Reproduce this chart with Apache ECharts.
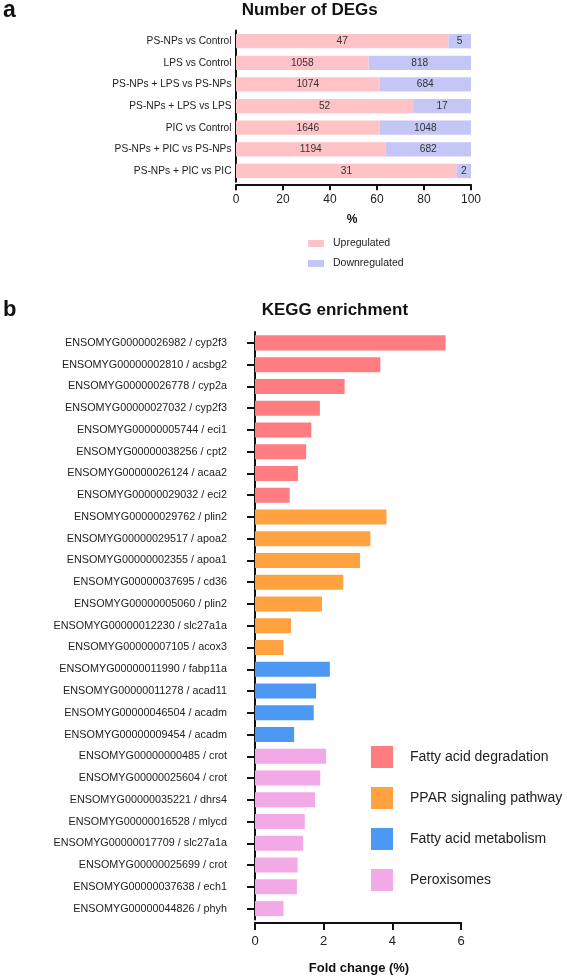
<!DOCTYPE html>
<html>
<head>
<meta charset="utf-8">
<script src="https://cdn.jsdelivr.net/npm/echarts@6/dist/echarts.min.js"></script>
<style>
html,body{margin:0;padding:0;background:#fff;}
#c{width:567px;height:977px;}
</style>
</head>
<body>
<div id="c"></div>
<script>
// ---- Panel a data ----
const degComparisons = ['PS-NPs vs Control','LPS vs Control','PS-NPs + LPS vs PS-NPs','PS-NPs + LPS vs LPS','PIC vs Control','PS-NPs + PIC vs PS-NPs','PS-NPs + PIC vs PIC'];
const upCounts = [47,1058,1074,52,1646,1194,31];
const downCounts = [5,818,684,17,1048,682,2];
const degTicks = [0,20,40,60,80,100];

// ---- Panel b data ----
const keggGenes = [
 'ENSOMYG00000026982 / cyp2f3','ENSOMYG00000002810 / acsbg2','ENSOMYG00000026778 / cyp2a','ENSOMYG00000027032 / cyp2f3',
 'ENSOMYG00000005744 / eci1','ENSOMYG00000038256 / cpt2','ENSOMYG00000026124 / acaa2','ENSOMYG00000029032 / eci2',
 'ENSOMYG00000029762 / plin2','ENSOMYG00000029517 / apoa2','ENSOMYG00000002355 / apoa1','ENSOMYG00000037695 / cd36',
 'ENSOMYG00000005060 / plin2','ENSOMYG00000012230 / slc27a1a','ENSOMYG00000007105 / acox3',
 'ENSOMYG00000011990 / fabp11a','ENSOMYG00000011278 / acad11','ENSOMYG00000046504 / acadm','ENSOMYG00000009454 / acadm',
 'ENSOMYG00000000485 / crot','ENSOMYG00000025604 / crot','ENSOMYG00000035221 / dhrs4','ENSOMYG00000016528 / mlycd',
 'ENSOMYG00000017709 / slc27a1a','ENSOMYG00000025699 / crot','ENSOMYG00000037638 / ech1','ENSOMYG00000044826 / phyh'
];
const keggFold = [5.55,3.65,2.61,1.89,1.64,1.49,1.25,1.01, 3.83,3.36,3.06,2.57,1.95,1.05,0.83, 2.18,1.78,1.71,1.14, 2.07,1.90,1.75,1.45,1.40,1.24,1.22,0.83];
const keggGroup = [0,0,0,0,0,0,0,0, 1,1,1,1,1,1,1, 2,2,2,2, 3,3,3,3,3,3,3,3];
const pathways = ['Fatty acid degradation','PPAR signaling pathway','Fatty acid metabolism','Peroxisomes'];
const pathwayColors = ['#FF7C80','#FFA23F','#4C98F2','#F3A9E5'];
const foldTicks = [0,2,4,6];

const FONT = 'Liberation Sans, Arial, Helvetica, sans-serif';
const chart = echarts.init(document.getElementById('c'), null, {renderer:'canvas'});

const totals = upCounts.map((u,i)=>u+downCounts[i]);
const upPct = upCounts.map((u,i)=>u/totals[i]*100);
const downPct = downCounts.map((d,i)=>d/totals[i]*100);

const keggSeries = pathways.map((name,g)=>({
  name: name, type:'bar', xAxisIndex:1, yAxisIndex:1, stack:'kegg',
  barWidth:'69%',
  itemStyle:{color:pathwayColors[g]},
  data: keggFold.map((v,i)=> keggGroup[i]===g ? v : '-')
}));

const option = {
  animation:false,
  textStyle:{fontFamily:FONT},
  grid:[
    {left:236, width:235, top:30.4, height:151.4},
    {left:255, width:206, top:332, height:587.5}
  ],
  legend:[
    {data:['Upregulated','Downregulated'], orient:'vertical', left:303, top:233,
     itemWidth:16, itemHeight:7, itemGap:9, icon:'rect',
     textStyle:{fontSize:10.5, color:'#222', fontFamily:FONT, padding:[0,0,0,4]}},
    {data:pathways, orient:'vertical', left:366, top:741,
     itemWidth:22, itemHeight:22, itemGap:19, icon:'rect',
     textStyle:{fontSize:14, color:'#222', fontFamily:FONT, padding:[0,0,0,12]}}
  ],
  xAxis:[
    {type:'value', gridIndex:0, min:degTicks[0], max:degTicks[degTicks.length-1], interval:20, offset:3,
     axisLine:{show:true, lineStyle:{color:'#111', width:2}},
     axisTick:{show:true, length:5.5, lineStyle:{color:'#111', width:2}},
     axisLabel:{fontSize:12, color:'#222', margin:9, fontFamily:FONT},
     splitLine:{show:false}},
    {type:'value', gridIndex:1, min:foldTicks[0], max:foldTicks[foldTicks.length-1], interval:2, offset:3,
     axisLine:{show:true, lineStyle:{color:'#111', width:2}},
     axisTick:{show:true, length:7.5, lineStyle:{color:'#111', width:2}},
     axisLabel:{fontSize:13, color:'#222', margin:12, fontFamily:FONT},
     splitLine:{show:false}}
  ],
  yAxis:[
    {type:'category', gridIndex:0, data:degComparisons, inverse:true,
     axisLine:{show:true, lineStyle:{color:'#111', width:2}},
     axisTick:{show:false},
     axisLabel:{fontSize:10.2, color:'#222', margin:4.5, fontFamily:FONT}},
    {type:'category', gridIndex:1, data:keggGenes, inverse:true,
     axisLine:{show:true, lineStyle:{color:'#111', width:2}},
     axisTick:{show:true, length:8, alignWithLabel:true, lineStyle:{color:'#111', width:2}},
     axisLabel:{fontSize:10.8, color:'#222', margin:28, fontFamily:FONT}}
  ],
  series:[
    {name:'Upregulated', type:'bar', xAxisIndex:0, yAxisIndex:0, stack:'deg', barWidth:'66%',
     itemStyle:{color:'#FFC2C6'}, data:upPct,
     label:{show:true, position:'inside', fontSize:10.2, color:'#333', fontFamily:FONT,
            formatter:p=>String(upCounts[p.dataIndex])}},
    {name:'Downregulated', type:'bar', xAxisIndex:0, yAxisIndex:0, stack:'deg', barWidth:'66%',
     itemStyle:{color:'#C4C6F6'}, data:downPct,
     label:{show:true, position:'inside', fontSize:10.2, color:'#333', fontFamily:FONT,
            formatter:p=>String(downCounts[p.dataIndex])}},
    ...keggSeries
  ],
  graphic:[
    {type:'text', left:3, top:-1, style:{text:'a', font:'bold 23px '+FONT, fill:'#111'}},
    {type:'text', left:3, top:299, style:{text:'b', font:'bold 22px '+FONT, fill:'#111'}},
    {type:'text', left:241.7, top:2, style:{text:'Number of DEGs', font:'bold 17px '+FONT, fill:'#111'}},
    {type:'text', left:261.7, top:302, style:{text:'KEGG enrichment', font:'bold 17px '+FONT, fill:'#111'}},
    {type:'text', x:352, y:220, style:{text:'%', font:'bold 12px '+FONT, fill:'#111', align:'center', verticalAlign:'middle'}},
    {type:'text', x:359, y:968, style:{text:'Fold change (%)', font:'bold 13px '+FONT, fill:'#111', align:'center', verticalAlign:'middle'}}
  ]
};
chart.setOption(option);
</script>
</body>
</html>
